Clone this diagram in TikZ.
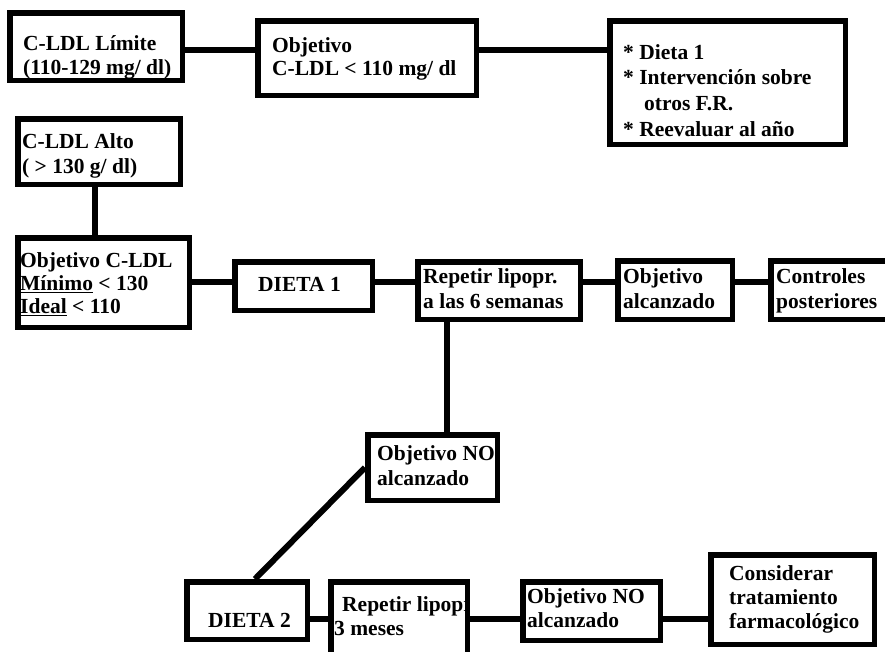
\documentclass[tikz,border=0pt]{standalone}
\usepackage{fontspec}
\setmainfont{Liberation Serif}
\begin{document}
\begin{tikzpicture}[x=1pt,y=-1pt,
  box/.style={draw, line width=5.5pt, inner sep=0pt},
  link/.style={line width=6pt},
  txt/.style={anchor=north west, inner sep=0pt, align=left,
    font=\bfseries\fontsize{21.5}{#1}\selectfont}]
\fill[white] (0,0) rectangle (885,651);
\useasboundingbox (0,0) rectangle (885,651);
% boxes
\node[box, minimum width=172.5pt, minimum height=67.5pt] (b1) at (96,46.5) {};
\node[box, minimum width=218.5pt, minimum height=74.5pt] (b2) at (367,58) {};
\node[box, minimum width=235.5pt, minimum height=123.5pt] (b3) at (727.5,82.5) {};
\node[box, minimum width=162.5pt, minimum height=65.5pt] (b4) at (99,151.5) {};
\node[box, minimum width=171.5pt, minimum height=89.5pt] (b5) at (103.5,282.5) {};
\node[box, minimum width=137.5pt, minimum height=48.5pt] (d1) at (303.5,286) {};
\node[box, minimum width=162.5pt, minimum height=57.5pt] (r1) at (499,290.5) {};
\node[box, minimum width=114.5pt, minimum height=58.5pt] (oa) at (675,290) {};
\node[box, minimum width=126.5pt, minimum height=58.5pt] (cp) at (834,290) {};
\node[box, minimum width=129.5pt, minimum height=65.5pt] (no1) at (432.5,467.5) {};
\node[box, minimum width=120.5pt, minimum height=57.5pt] (d2) at (247,610.5) {};
\node[box, minimum width=136.5pt, minimum height=85.5pt] (r2) at (399,624.5) {};
\node[box, minimum width=137.5pt, minimum height=58.5pt] (no2) at (591.5,611) {};
\node[box, minimum width=163.5pt, minimum height=89.5pt] (cf) at (792.5,599.5) {};
% texts
\node[txt=24] (t1) at (23,33.2) {\strut C-LDL Límite\\(110-129 mg/ dl)};
\node[txt=23] (t2) at (272,35.9) {\strut Objetivo\\C-LDL < 110 mg/ dl};
\node[txt=25.6] (t3) at (623,41.1) {\strut * Dieta 1\\* Intervención sobre\\\hspace*{21pt}otros F.R.\\* Reevaluar al año};
\node[txt=25] (t4) at (22,130.5) {\strut C-LDL Alto\\( > 130 g/ dl)};
\node[txt=23] (t5) at (20,250.9) {\strut Objetivo C-LDL\\\underline{Mínimo} < 130\\\underline{Ideal} < 110};
\node[txt=24] (t6) at (258,274.2) {\strut DIETA 1};
\node[txt=25] (t7) at (423,265.5) {\strut Repetir lipopr.\\a las 6 semanas};
\node[txt=25] (t8) at (623,265.5) {\strut Objetivo\\alcanzado};
\node[txt=25] (t9) at (776,265.5) {\strut Controles\\posteriores};
\node[txt=25] (t10) at (377,442.5) {\strut Objetivo NO\\alcanzado};
\node[txt=24] (t11) at (208,610.2) {\strut DIETA 2};
\begin{scope}
  \clip (r2.south west) rectangle ([xshift=-5.5pt]r2.north east);
  \node[txt=24] (t12) at (334,594.2) {\strut\hspace*{8pt}Repetir lipopr\\3 meses};
\end{scope}
\node[txt=24] (t13) at (527,586.2) {\strut Objetivo NO\\alcanzado};
\node[txt=24] (t14) at (729,563.2) {\strut Considerar\\tratamiento\\farmacológico};
% connector levels
\coordinate (yA) at (0,50);
\coordinate (xV) at (95,0);
\coordinate (yB) at (0,282);
\coordinate (xC) at (447,0);
\coordinate (xD) at (255,0);
\coordinate (yE) at (0,619);
% connectors
\draw[link] (b1.east |- yA) -- (b2.west |- yA);
\draw[link] (b2.east |- yA) -- (b3.west |- yA);
\draw[link] (b4.south -| xV) -- (b5.north -| xV);
\draw[link] (b5.east |- yB) -- (d1.west |- yB);
\draw[link] (d1.east |- yB) -- (r1.west |- yB);
\draw[link] (r1.east |- yB) -- (oa.west |- yB);
\draw[link] (oa.east |- yB) -- (cp.west |- yB);
\draw[link] (r1.south -| xC) -- (no1.north -| xC);
\draw[link] (no1.west) -- (d2.north -| xD);
\draw[link] (d2.east |- yE) -- (r2.west |- yE);
\draw[link] (r2.east |- yE) -- (no2.west |- yE);
\draw[link] (no2.east |- yE) -- (cf.west |- yE);
\end{tikzpicture}
\end{document}
